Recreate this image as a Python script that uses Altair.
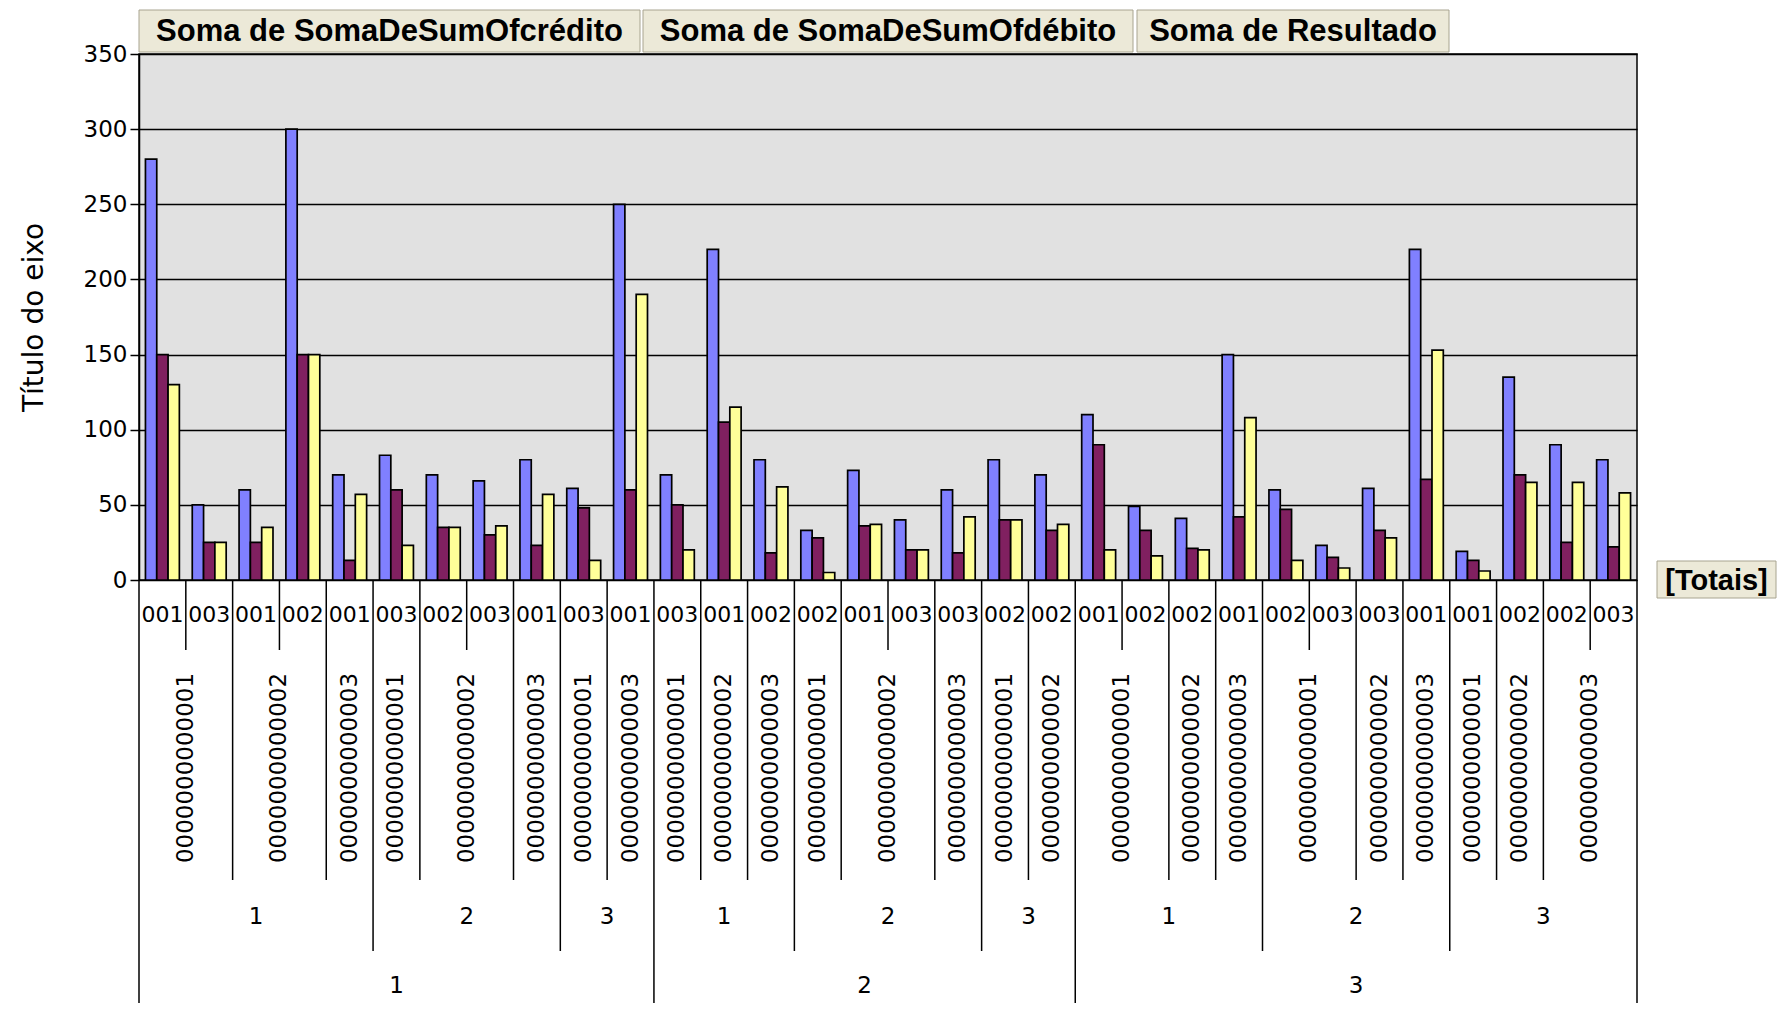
import altair as alt
import pandas as pd

# ---------------- data ----------------
series = ["Soma de SomaDeSumOfcrédito", "Soma de SomaDeSumOfdébito", "Soma de Resultado"]
cores = ["#8080FF", "#802060", "#FFFF99"]

nivel1 = ["1"] * 11 + ["2"] * 9 + ["3"] * 12
nivel2 = (["1"] * 5 + ["2"] * 4 + ["3"] * 2 +
          ["1"] * 3 + ["2"] * 4 + ["3"] * 2 +
          ["1"] * 4 + ["2"] * 4 + ["3"] * 4)
c1, c2, c3 = "0000000000001", "0000000000002", "0000000000003"
nivel3 = [c1, c1, c2, c2, c3, c1, c2, c2, c3, c1, c3,
          c1, c2, c3, c1, c2, c2, c3, c1, c2,
          c1, c1, c2, c3, c1, c1, c2, c3, c1, c2, c3, c3]
nivel4 = ["001", "003", "001", "002", "001", "003", "002", "003", "001", "003", "001",
          "003", "001", "002", "002", "001", "003", "003", "002", "002",
          "001", "002", "002", "001", "002", "003", "003", "001", "001", "002", "002", "003"]

credito = [280, 50, 60, 300, 70, 83, 70, 66, 80, 61, 250,
           70, 220, 80, 33, 73, 40, 60, 80, 70,
           110, 49, 41, 150, 60, 23, 61, 220, 19, 135, 90, 80]
debito = [150, 25, 25, 150, 13, 60, 35, 30, 23, 48, 60,
          50, 105, 18, 28, 36, 20, 18, 40, 33,
          90, 33, 21, 42, 47, 15, 33, 67, 13, 70, 25, 22]
resultado = [130, 25, 35, 150, 57, 23, 35, 36, 57, 13, 190,
             20, 115, 62, 5, 37, 20, 42, 40, 37,
             20, 16, 20, 108, 13, 8, 28, 153, 6, 65, 65, 58]

y_ticks = [0, 50, 100, 150, 200, 250, 300, 350]
y_title = "Título do eixo"
totais = "[Totais]"

# ---------------- tables ----------------
n = len(nivel4)
ids = [f"{a}|{b}|{c}|{d}" for a, b, c, d in zip(nivel1, nivel2, nivel3, nivel4)]
linhas = []
for i in range(n):
    for s, vals in zip(series, [credito, debito, resultado]):
        linhas.append({"folha": ids[i], "serie": s, "valor": vals[i]})
df_bars = pd.DataFrame(linhas)

fronteiras = []
for i in range(n + 1):
    if i == 0 or i == n or nivel1[i] != nivel1[i - 1]:
        d = 1
    elif nivel2[i] != nivel2[i - 1]:
        d = 2
    elif nivel3[i] != nivel3[i - 1]:
        d = 3
    else:
        d = 4
    fronteiras.append({"pos": i, "nivel": d})
df_front = pd.DataFrame(fronteiras)


def grupos(chaves, rotulos):
    out, start = [], 0
    for i in range(1, n + 1):
        if i == n or chaves[i] != chaves[i - 1]:
            out.append({"pos": (start + i) / 2, "rotulo": rotulos[start]})
            start = i
    return pd.DataFrame(out)


g4 = grupos(ids, nivel4)
g3 = grupos(list(zip(nivel1, nivel2, nivel3)), nivel3)
g2 = grupos(list(zip(nivel1, nivel2)), nivel2)
g1 = grupos(nivel1, nivel1)

# ---------------- layout constants (pixels, plot-relative) ----------------
W, H = 1498, 526
FONT = "DejaVu Sans"

bars = alt.Chart(df_bars).mark_bar(stroke="#000000", strokeWidth=1.7).encode(
    x=alt.X("folha:N", sort=ids, axis=None,
            scale=alt.Scale(paddingInner=0, paddingOuter=0)),
    xOffset=alt.XOffset("serie:N", sort=series,
                        scale=alt.Scale(paddingInner=0, paddingOuter=0.57)),
    y=alt.Y("valor:Q", scale=alt.Scale(domain=[0, 350], nice=False),
            axis=alt.Axis(values=y_ticks, format="d", title=y_title, grid=True,
                          gridColor="#000000", gridWidth=1.5,
                          domainColor="#000000", domainWidth=1.5,
                          tickColor="#000000", tickSize=9, tickWidth=1.5,
                          labelFont=FONT, labelFontSize=23, labelColor="#000000",
                          labelPadding=3,
                          titleFont=FONT, titleFontSize=28, titleFontWeight="normal",
                          titleColor="#000000", titleX=-105, titleY=H / 2,
                          titleAngle=270, titleAlign="center", titleBaseline="middle")),
    color=alt.Color("serie:N", scale=alt.Scale(domain=series, range=cores), legend=None),
)

xq = alt.X("pos:Q", scale=alt.Scale(domain=[0, n], nice=False, zero=False), axis=None)


def regua(nivel, fim):
    return alt.Chart(df_front).transform_filter(alt.datum.nivel == nivel).mark_rule(
        color="#000000", strokeWidth=1.5).encode(x=xq, y=alt.value(H), y2=alt.value(fim))


def rotulos(df, ypix, size, angle=0):
    return alt.Chart(df).mark_text(font=FONT, fontSize=size, color="#000000",
                                   align="center", baseline="middle", angle=angle).encode(
        x=xq, y=alt.value(ypix), text="rotulo:N")


def botao(texto, x0, x1, y0, y1, size):
    base = alt.Chart(pd.DataFrame({"t": [texto]}))
    r = base.mark_rect(fill="#ECE9D8", stroke="#A8A490", strokeWidth=1).encode(
        x=alt.value(x0), x2=alt.value(x1), y=alt.value(y0), y2=alt.value(y1))
    t = base.mark_text(font="Liberation Sans", fontWeight="bold", fontSize=size,
                       color="#000000", align="center", baseline="middle").encode(
        x=alt.value((x0 + x1) / 2), y=alt.value((y0 + y1) / 2 + 1), text="t:N")
    return r + t


chart = alt.layer(
    bars,
    regua(4, 596), regua(3, 826), regua(2, 897), regua(1, 1000),
    rotulos(g4, 561, 22),
    rotulos(g3, 714, 23, 270),
    rotulos(g2, 863, 23),
    rotulos(g1, 932, 23),
    botao(series[0], 0, 501, -44, -2, 31),
    botao(series[1], 504, 994, -44, -2, 31),
    botao(series[2], 998, 1310, -44, -2, 31),
    botao(totais, 1518, 1637, 507, 544, 29),
).resolve_scale(x="independent").properties(
    width=W, height=H,
    autosize=alt.AutoSizeParams(type="none"),
    padding={"left": 131, "top": 46, "right": 141, "bottom": 423},
    background="#FFFFFF",
).configure_view(fill="#E1E1E1", stroke="#000000", strokeWidth=1.5)

chart.save("out.html", embed_options={"renderer": "svg", "actions": False})
